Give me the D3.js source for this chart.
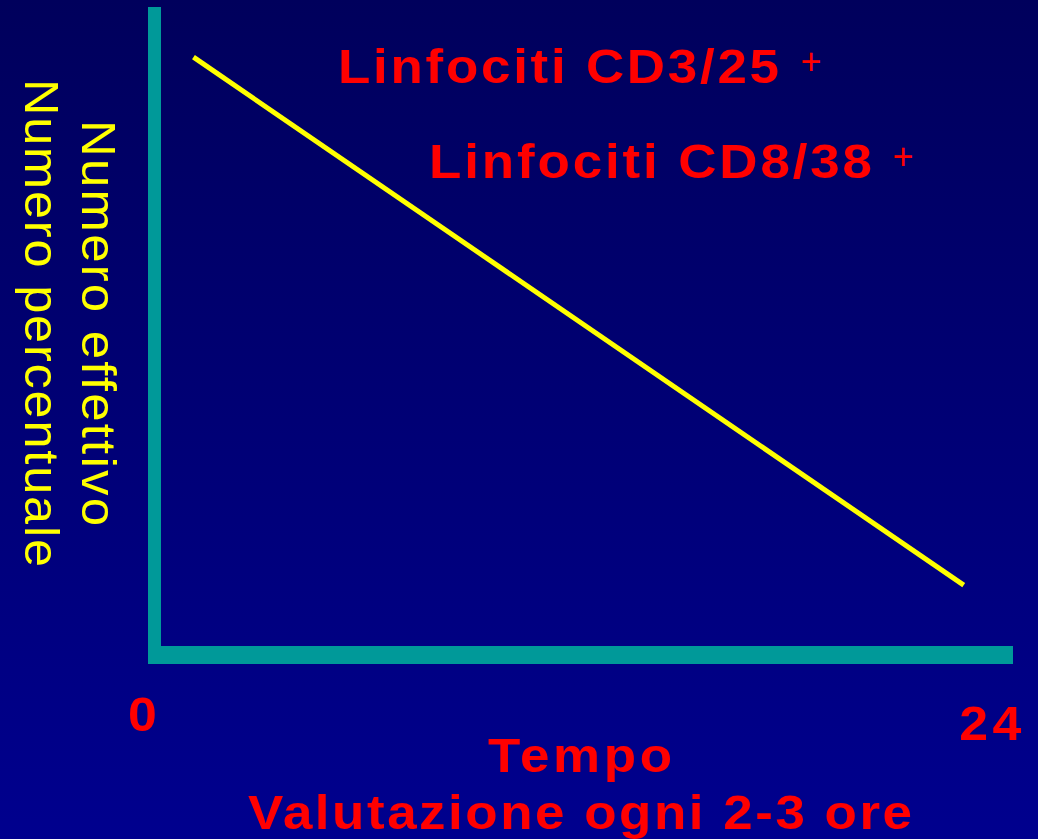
<!DOCTYPE html>
<html>
<head>
<meta charset="utf-8">
<script src="https://cdn.jsdelivr.net/npm/d3@7"></script>
<style>
  html, body { margin: 0; padding: 0; background: #000070; }
  svg { display: block; }
</style>
</head>
<body>
<div id="chart"></div>
<script>
// values
const times = [1.4, 23.2];          // ore
const counts = [92.4, 10.8];        // numero (scala arbitraria)
const xTicks = [0, 24];
const seriesLabels = ['Linfociti CD3/25', 'Linfociti CD8/38'];
const seriesSup = ['+', '+'];
const xTitle = ['Tempo', 'Valutazione ogni 2-3 ore'];
const yTitle = ['Numero effettivo', 'Numero percentuale'];

const width = 1038;
const height = 839;
const FONT = '"Liberation Sans", Arial, sans-serif';
const SX = 1.08;   // i caratteri dell'originale sono un po' piu' larghi

const svg = d3.select('#chart')
  .append('svg')
  .attr('width', width)
  .attr('height', height);

// sfondo sfumato
const grad = svg.append('defs').append('linearGradient')
  .attr('id', 'bg')
  .attr('x1', 0).attr('y1', 0).attr('x2', 0).attr('y2', 1);
grad.append('stop').attr('offset', '0%').attr('stop-color', '#00005c');
grad.append('stop').attr('offset', '100%').attr('stop-color', '#00008e');
svg.append('rect')
  .attr('width', width)
  .attr('height', height)
  .attr('fill', 'url(#bg)');

// scale
const x = d3.scaleLinear().domain([0, 24]).range([144, 992]);
const y = d3.scaleLinear().domain([0, 100]).range([655, 8]);

// assi (barre teal)
const plot = { left: 148, top: 7, right: 1013, bottom: 664 };
const teal = '#009999';
svg.append('rect')
  .attr('x', plot.left).attr('y', plot.top)
  .attr('width', 13).attr('height', plot.bottom - plot.top)
  .attr('fill', teal);
svg.append('rect')
  .attr('x', plot.left).attr('y', plot.bottom - 18)
  .attr('width', plot.right - plot.left).attr('height', 18)
  .attr('fill', teal);

// tick 0 / 24
const xAxis = d3.axisBottom(x).tickValues(xTicks).tickSize(0).tickPadding(0);
const gx = svg.append('g')
  .attr('transform', 'translate(0, 731)')
  .call(xAxis);
gx.select('.domain').remove();
gx.selectAll('text')
  .attr('y', 0)
  .attr('dy', d => d === 24 ? 9 : 0)
  .attr('transform', `scale(${SX},1)`)
  .attr('fill', '#ff0000')
  .style('font-family', FONT)
  .style('font-weight', 'bold')
  .style('font-size', '48px')
  .style('letter-spacing', '4px');

// linea
const pts = times.map((t, i) => [t, counts[i]]);
svg.append('path')
  .datum(pts)
  .attr('d', d3.line().x(d => x(d[0])).y(d => y(d[1])))
  .attr('fill', 'none')
  .attr('stroke', '#ffff00')
  .attr('stroke-width', 5);

function wideText(px, py, len, anchor) {
  return svg.append('text')
    .attr('transform', `translate(${px},${py}) scale(${SX},1)`)
    .attr('text-anchor', anchor)
    .attr('textLength', len / SX)
    .attr('lengthAdjust', 'spacing')
    .attr('fill', '#ff0000')
    .style('font-family', FONT)
    .style('font-weight', 'bold')
    .style('font-size', '49px');
}

// etichette serie
const labelPos = [
  { x: 338, y: 83, len: 441, sx: 811, sy: 74 },
  { x: 429, y: 178, len: 443, sx: 903, sy: 169 }
];
seriesLabels.forEach((lab, i) => {
  const p = labelPos[i];
  wideText(p.x, p.y, p.len, 'start').text(lab);
  svg.append('text')
    .attr('x', p.sx).attr('y', p.sy)
    .attr('text-anchor', 'middle')
    .attr('fill', '#ff0000')
    .style('font-family', FONT)
    .style('font-size', '36px')
    .text(seriesSup[i]);
});

// titolo asse x
const xt = [{ y: 772, len: 184 }, { y: 829, len: 664 }];
xTitle.forEach((t, i) => {
  wideText(580, xt[i].y, xt[i].len, 'middle').text(t);
});

// titolo asse y (ruotato)
const yt = [{ x: 82, y: 120, len: 406, s: 1.06 }, { x: 25, y: 79, len: 488, s: 1.05 }];
yTitle.forEach((t, i) => {
  svg.append('text')
    .attr('transform', `translate(${yt[i].x}, ${yt[i].y}) rotate(90) scale(${yt[i].s},1)`)
    .attr('textLength', yt[i].len / yt[i].s)
    .attr('lengthAdjust', 'spacing')
    .attr('fill', '#ffff00')
    .style('font-family', FONT)
    .style('font-size', '48px')
    .text(t);
});
</script>
</body>
</html>
